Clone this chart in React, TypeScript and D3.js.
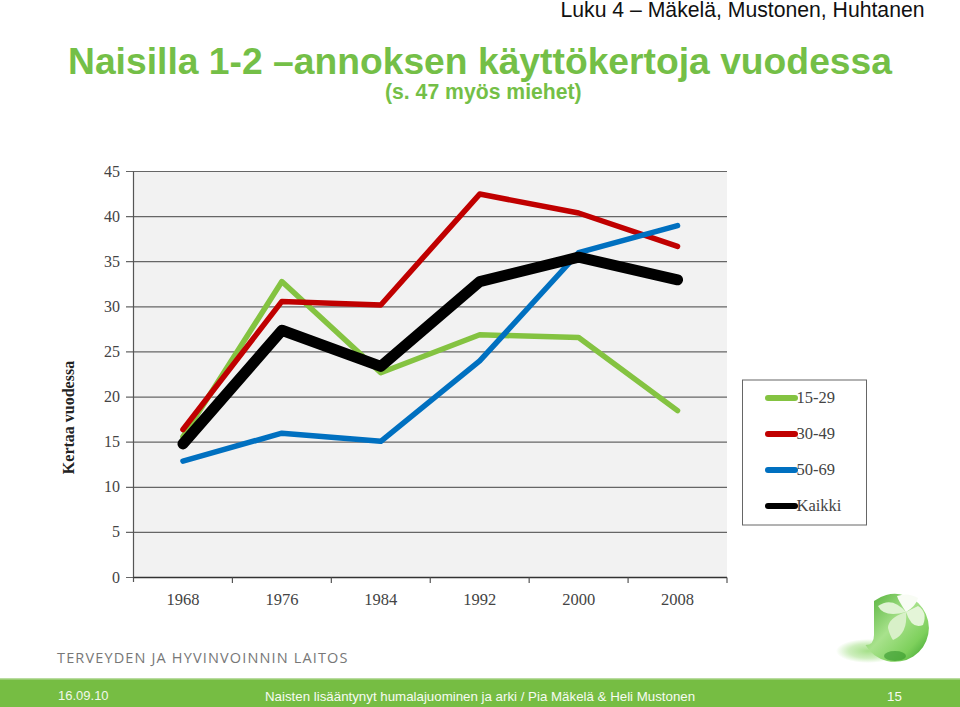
import * as d3 from "d3";
import React from "react";

const years = ["1968", "1976", "1984", "1992", "2000", "2008"];
const yTicks = [0, 5, 10, 15, 20, 25, 30, 35, 40, 45];
const women1529 = [15.6, 32.8, 22.7, 26.9, 26.6, 18.5];
const women3049 = [16.4, 30.6, 30.2, 42.5, 40.4, 36.7];
const women5069 = [12.9, 16, 15.1, 24, 36, 39];
const womenAll = [14.8, 27.4, 23.4, 32.8, 35.5, 33];

const seriesNames = ["15-29", "30-49", "50-69", "Kaikki"];
const seriesValues = [women1529, women3049, women5069, womenAll];
const seriesColors = ["#84c341", "#c00000", "#0070c0", "#000000"];
const seriesWidths = [5.5, 5.5, 5.5, 11];

const serif = "'Liberation Serif', serif";
const sans = "'Liberation Sans', sans-serif";

const x = d3.scaleBand().domain(years).range([133.5, 727]);
const y = d3.scaleLinear().domain([0, 45]).range([577.5, 171.5]);
const line = d3
	.line<number>()
	.x((_, i) => x(years[i])! + x.bandwidth() / 2)
	.y((d) => y(d));

const legendY = d3.scalePoint().domain(seriesNames).range([398, 506]);

const App = () => {
	return (
		<svg
			width={960}
			height={707}
			style={{ position: "absolute", left: 0, top: 0, background: "#fff" }}
		>
			<defs>
				<linearGradient id="ball" x1="0" y1="0" x2="1" y2="1">
					<stop offset="0%" stopColor="#4fae35" />
					<stop offset="45%" stopColor="#a8e28c" />
					<stop offset="75%" stopColor="#7ed05c" />
					<stop offset="100%" stopColor="#2f9a28" />
				</linearGradient>
				<radialGradient id="shadow">
					<stop offset="0%" stopColor="#a6e08a" />
					<stop offset="60%" stopColor="#cdeebd" />
					<stop offset="100%" stopColor="#ffffff" />
				</radialGradient>
			</defs>

			<text x={924.5} y={16.5} textAnchor="end" fontFamily={sans} fontSize={21.2} fill="#111">
				Luku 4 – Mäkelä, Mustonen, Huhtanen
			</text>
			<text x={68} y={74} fontFamily={sans} fontSize={37.25} fontWeight={700} fill="#74bf47">
				Naisilla 1-2 –annoksen käyttökertoja vuodessa
			</text>
			<text x={385} y={99} fontFamily={sans} fontSize={21.2} fontWeight={700} fill="#74bf47">
				(s. 47 myös miehet)
			</text>

			<rect x={133.5} y={171.5} width={593.5} height={406} fill="#f2f2f2" />
			{yTicks.map((t) => (
				<g key={t}>
					<line x1={126} x2={727} y1={y(t)} y2={y(t)} stroke="#666" strokeWidth={1.2} />
					<text x={120} y={y(t) + 5} textAnchor="end" fontFamily={serif} fontSize={16} fill="#444">
						{t}
					</text>
				</g>
			))}
			<line x1={133.5} x2={133.5} y1={171.5} y2={582} stroke="#555" strokeWidth={1.2} />
			<line x1={133.5} x2={727} y1={577.5} y2={577.5} stroke="#333" strokeWidth={1.5} />
			{years.map((yr) => (
				<g key={yr}>
					<line x1={x(yr)! + x.bandwidth()} x2={x(yr)! + x.bandwidth()} y1={577.5} y2={583} stroke="#555" strokeWidth={1.2} />
					<text x={x(yr)! + x.bandwidth() / 2} y={605} textAnchor="middle" fontFamily={serif} fontSize={16.5} fill="#444">
						{yr}
					</text>
				</g>
			))}
			<text
				transform="translate(74,417.5) rotate(-90)"
				textAnchor="middle"
				fontFamily={serif}
				fontSize={16}
				fontWeight={700}
				fill="#222"
			>
				Kertaa vuodessa
			</text>

			{seriesValues.map((vals, i) => (
				<path
					key={seriesNames[i]}
					d={line(vals)!}
					fill="none"
					stroke={seriesColors[i]}
					strokeWidth={seriesWidths[i]}
					strokeLinecap="round"
					strokeLinejoin="round"
				/>
			))}

			<rect x={742.5} y={380} width={124} height={145} fill="#fff" stroke="#666" strokeWidth={1} />
			{seriesNames.map((n, i) => (
				<g key={n}>
					<line
						x1={768}
						x2={795}
						y1={legendY(n)!}
						y2={legendY(n)!}
						stroke={seriesColors[i]}
						strokeWidth={6}
						strokeLinecap="round"
					/>
					<text x={796.5} y={legendY(n)! + 5} fontFamily={serif} fontSize={16.5} fill="#444">
						{n}
					</text>
				</g>
			))}

			<ellipse cx={868} cy={651} rx={32} ry={12} fill="url(#shadow)" />
			<path
				d="M874 601 A34 34 0 1 1 865.5 645 Q874 645 874 635 Z"
				fill="url(#ball)"
			/>
			<ellipse cx={895} cy={656} rx={11} ry={5} fill="#2c8f26" opacity={0.55} />
			<path d="M906 612 Q892 596 878 606 Q884 618 906 612 Z" fill="#dff3d2" />
			<path d="M906 612 Q888 618 888 628 Q890 636 893 640 Q908 634 906 612 Z" fill="#d8f0c8" />
			<path d="M906 612 Q912 630 923 625 Q928 612 918 606 Z" fill="#e4f5d8" />
			<path d="M906 612 Q898 600 897 596 Q908 592 918 598 Q916 606 906 612 Z" fill="#f8fcf4" />

			<text x={57} y={663} fontFamily="'Open Sans', sans-serif" fontSize={14.5} letterSpacing={1.15} fill="#777">
				TERVEYDEN JA HYVINVOINNIN LAITOS
			</text>

			<rect x={0} y={678} width={960} height={29} fill="#76bd43" />
			<rect x={0} y={678} width={960} height={1.5} fill="#b9dca0" />
			<text x={58} y={700} fontFamily={sans} fontSize={13} fill="#f2f8ea">
				16.09.10
			</text>
			<text x={265} y={701} fontFamily={sans} fontSize={13.3} fill="#f7fbf2">
				Naisten lisääntynyt humalajuominen ja arki / Pia Mäkelä &amp; Heli Mustonen
			</text>
			<text x={887} y={701} fontFamily={sans} fontSize={13.3} fill="#f7fbf2">
				15
			</text>
		</svg>
	);
};

export default App;
